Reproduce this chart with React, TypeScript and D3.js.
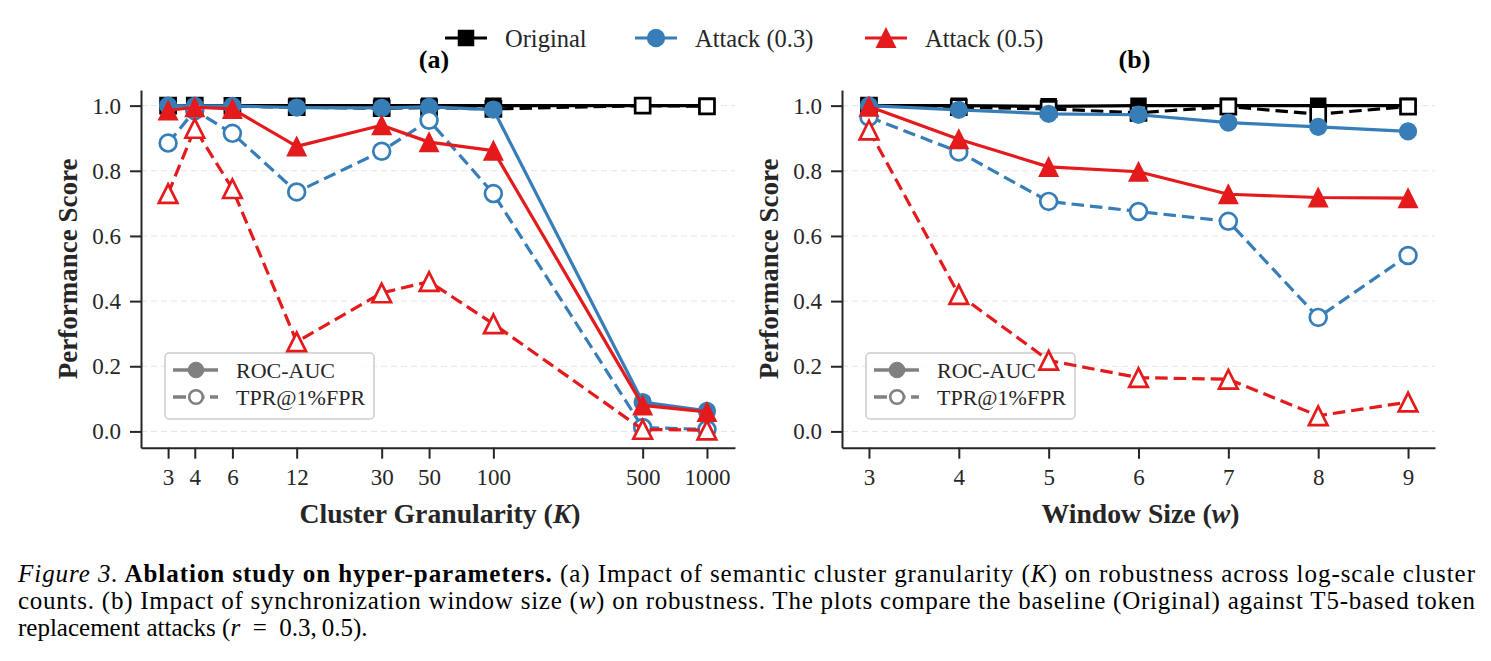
import { useEffect, useRef } from 'react';
import * as d3 from 'd3';

// ---- data ----
const kValues = [3, 4, 6, 12, 30, 50, 100, 500, 1000];
const wValues = [3, 4, 5, 6, 7, 8, 9];

const kOriginalRoc = [1.0, 1.0, 1.0, 1.0, 1.0, 1.0, 1.0, 1.0, 1.0];
const kOriginalTpr = [1.0, 1.0, 0.999, 0.995, 0.992, 0.994, 0.99, 1.0, 0.998];
const kAttack03Roc = [1.0, 0.999, 0.999, 0.994, 0.993, 0.996, 0.988, 0.09, 0.063];
const kAttack03Tpr = [0.885, 0.985, 0.915, 0.735, 0.86, 0.955, 0.73, 0.012, 0.006];
const kAttack05Roc = [0.985, 0.995, 0.99, 0.875, 0.94, 0.888, 0.862, 0.08, 0.06];
const kAttack05Tpr = [0.73, 0.93, 0.745, 0.275, 0.425, 0.46, 0.33, 0.006, 0.004];

const wOriginalRoc = [1.0, 1.0, 0.998, 1.0, 1.0, 1.0, 1.0];
const wOriginalTpr = [1.0, 0.995, 0.99, 0.978, 0.997, 0.974, 0.997];
const wAttack03Roc = [1.0, 0.987, 0.975, 0.972, 0.948, 0.935, 0.921];
const wAttack03Tpr = [0.965, 0.858, 0.706, 0.675, 0.645, 0.35, 0.54];
const wAttack05Roc = [0.997, 0.897, 0.812, 0.797, 0.728, 0.718, 0.716];
const wAttack05Tpr = [0.925, 0.42, 0.218, 0.165, 0.16, 0.048, 0.09];

const methods = ['Original', 'Attack (0.3)', 'Attack (0.5)'];
const methodColors = ['#000000', '#377eb8', '#e41a1c'];
const methodShapes = ['square', 'circle', 'triangle'];
const metricLabels = ['ROC-AUC', 'TPR@1%FPR'];
const yTicks = [0, 0.2, 0.4, 0.6, 0.8, 1.0];

const FONT = '"Liberation Serif", "Times New Roman", Times, serif';
const INK = '#262626';

type Shape = 'square' | 'circle' | 'triangle';

function markerPath(shape: Shape) {
  if (shape === 'square') return d3.symbol(d3.symbolSquare, 15 * 15)();
  if (shape === 'circle') return d3.symbol(d3.symbolCircle, Math.PI * 8.4 * 8.4)();
  const s = 9.3;
  return `M0,${-s}L${-s},${s}L${s},${s}Z`;
}

function addMarker(
  g: d3.Selection<SVGGElement, unknown, null, undefined>,
  shape: Shape,
  cx: number,
  cy: number,
  color: string,
  filled: boolean,
) {
  g.append('path')
    .attr('d', markerPath(shape))
    .attr('transform', `translate(${cx},${cy})`)
    .attr('fill', filled ? color : '#ffffff')
    .attr('stroke', color)
    .attr('stroke-width', filled ? 1.5 : 2.7)
    .attr('stroke-linejoin', 'miter');
}

export default function App() {
  const svgRef = useRef<SVGSVGElement>(null);

  useEffect(() => {
    const svg = d3.select(svgRef.current);
    if (!svg.node()) return;
    svg.selectAll('*').remove();

    const yTop = 90;
    const yBot = 447.7;
    const y = d3.scaleLinear().domain([-0.05, 1.048]).range([yBot, yTop]);

    const panels = [
      {
        title: '(a)',
        xs: kValues,
        x: d3.scaleLog().domain([2.24, 1353]).range([141, 735]),
        series: [
          [kOriginalRoc, kOriginalTpr],
          [kAttack03Roc, kAttack03Tpr],
          [kAttack05Roc, kAttack05Tpr],
        ],
        xlabel: 'Cluster Granularity (',
        xvar: 'K',
      },
      {
        title: '(b)',
        xs: wValues,
        x: d3.scaleLinear().domain([2.7, 9.3]).range([842, 1435]),
        series: [
          [wOriginalRoc, wOriginalTpr],
          [wAttack03Roc, wAttack03Tpr],
          [wAttack05Roc, wAttack05Tpr],
        ],
        xlabel: 'Window Size (',
        xvar: 'w',
      },
    ];

    panels.forEach((p) => {
      const [x0, x1] = p.x.range();
      const g = svg.append('g');

      // grid
      g.append('g')
        .selectAll('line')
        .data(yTicks)
        .join('line')
        .attr('x1', x0)
        .attr('x2', x1)
        .attr('y1', (d) => y(d))
        .attr('y2', (d) => y(d))
        .attr('stroke', '#e4e4e4')
        .attr('stroke-width', 1)
        .attr('stroke-dasharray', '6 4');

      // inner metric legend (kept under the lines, as in the original)
      const lx = x0 + 24;
      const ly = 353;
      const lg = g.append('g');
      lg.append('rect')
        .attr('x', lx)
        .attr('y', ly)
        .attr('width', 209)
        .attr('height', 66)
        .attr('rx', 4)
        .attr('fill', 'rgba(255,255,255,0.8)')
        .attr('stroke', '#cccccc')
        .attr('stroke-width', 1.5);
      metricLabels.forEach((label, i) => {
        const cy = ly + 17 + i * 27;
        lg.append('line')
          .attr('x1', lx + 8)
          .attr('x2', lx + 53)
          .attr('y1', cy)
          .attr('y2', cy)
          .attr('stroke', '#808080')
          .attr('stroke-width', 3.5)
          .attr('stroke-dasharray', i === 1 ? '13 5.5' : null);
        lg.append('circle')
          .attr('cx', lx + 31)
          .attr('cy', cy)
          .attr('r', i === 0 ? 7.8 : 6.8)
          .attr('fill', i === 0 ? '#808080' : '#ffffff')
          .attr('stroke', '#808080')
          .attr('stroke-width', i === 0 ? 1 : 2.6);
        lg.append('text')
          .attr('x', lx + 71)
          .attr('y', cy + 8)
          .attr('font-family', FONT)
          .attr('font-size', 22)
          .attr('fill', INK)
          .text(label);
      });

      // axes
      const yAxis = g
        .append('g')
        .attr('transform', `translate(${x0},0)`)
        .call(
          d3
            .axisLeft(y)
            .tickValues(yTicks)
            .tickFormat(d3.format('.1f'))
            .tickSize(11)
            .tickSizeOuter(0)
            .tickPadding(9),
        );
      const xAxis = g
        .append('g')
        .attr('transform', `translate(0,${yBot})`)
        .call(
          d3
            .axisBottom(p.x as d3.ScaleContinuousNumeric<number, number>)
            .tickValues(p.xs)
            .tickFormat((v) => `${v}`)
            .tickSize(11)
            .tickSizeOuter(0)
            .tickPadding(10),
        );
      [yAxis, xAxis].forEach((ax) => {
        ax.select('.domain').attr('stroke', INK).attr('stroke-width', 2);
        ax.selectAll('.tick line').attr('stroke', INK).attr('stroke-width', 2);
        ax.selectAll('.tick text')
          .attr('fill', INK)
          .attr('font-family', FONT)
          .attr('font-size', 23);
      });

      // series: for each method ROC (solid, filled) then TPR (dashed, hollow)
      p.series.forEach((pair, mi) => {
        const color = methodColors[mi];
        const shape = methodShapes[mi] as Shape;
        pair.forEach((vals, si) => {
          const pts = p.xs.map((xv, i) => [xv, vals[i]] as [number, number]);
          const line = d3
            .line<[number, number]>()
            .x((d) => p.x(d[0]))
            .y((d) => y(d[1]));
          g.append('path')
            .attr('d', line(pts))
            .attr('fill', 'none')
            .attr('stroke', color)
            .attr('stroke-width', 3.2)
            .attr('stroke-linejoin', 'round')
            .attr('stroke-dasharray', si === 1 ? '12.5 6' : null);
          const mg = g.append('g');
          pts.forEach((d) => addMarker(mg, shape, p.x(d[0]), y(d[1]), color, si === 0));
        });
      });

      // panel title
      g.append('text')
        .attr('x', (x0 + x1) / 2 - 4)
        .attr('y', 68)
        .attr('text-anchor', 'middle')
        .attr('font-family', FONT)
        .attr('font-weight', 'bold')
        .attr('font-size', 26)
        .attr('fill', '#000')
        .text(p.title);

      // y label
      g.append('text')
        .attr('transform', `translate(${x0 - 64},${(yTop + yBot) / 2}) rotate(-90)`)
        .attr('text-anchor', 'middle')
        .attr('font-family', FONT)
        .attr('font-weight', 'bold')
        .attr('font-size', 27)
        .attr('fill', INK)
        .text('Performance Score');

      // x label
      const xl = g
        .append('text')
        .attr('x', (x0 + x1) / 2 + 2)
        .attr('y', 523)
        .attr('text-anchor', 'middle')
        .attr('font-family', FONT)
        .attr('font-weight', 'bold')
        .attr('font-size', 27.7)
        .attr('fill', INK);
      xl.append('tspan').text(p.xlabel);
      xl.append('tspan').attr('font-style', 'italic').text(p.xvar);
      xl.append('tspan').text(')');
    });

    // top legend
    const legendX = [466, 656, 886];
    const top = svg.append('g');
    methods.forEach((m, i) => {
      const cx = legendX[i];
      const cy = 38;
      top.append('line')
        .attr('x1', cx - 21)
        .attr('x2', cx + 21)
        .attr('y1', cy)
        .attr('y2', cy)
        .attr('stroke', methodColors[i])
        .attr('stroke-width', 3.2);
      addMarker(top, methodShapes[i] as Shape, cx, cy, methodColors[i], true);
      top.append('text')
        .attr('x', cx + 39)
        .attr('y', cy + 8.5)
        .attr('font-family', FONT)
        .attr('font-size', 24.5)
        .attr('fill', INK)
        .text(m);
    });

    // caption (first two lines are justified in the source)
    const cap = svg.append('g').attr('font-family', FONT).attr('font-size', 25).attr('fill', '#000');
    const l1 = cap
      .append('text')
      .attr('x', 18)
      .attr('y', 581.5)
      .attr('textLength', 1457)
      .attr('lengthAdjust', 'spacing');
    l1.append('tspan').attr('font-style', 'italic').text('Figure 3.');
    l1.append('tspan').attr('font-weight', 'bold').text(' Ablation study on hyper-parameters.');
    l1.append('tspan').text(' (a) Impact of semantic cluster granularity (');
    l1.append('tspan').attr('font-style', 'italic').text('K');
    l1.append('tspan').text(') on robustness across log-scale cluster');

    const l2 = cap
      .append('text')
      .attr('x', 18)
      .attr('y', 608.5)
      .attr('textLength', 1457)
      .attr('lengthAdjust', 'spacing');
    l2.append('tspan').text('counts. (b) Impact of synchronization window size (');
    l2.append('tspan').attr('font-style', 'italic').text('w');
    l2.append('tspan').text(
      ') on robustness. The plots compare the baseline (Original) against T5-based token',
    );

    const l3 = cap.append('text').attr('x', 18).attr('y', 635.5);
    l3.append('tspan').text('replacement attacks (');
    l3.append('tspan').attr('font-style', 'italic').text('r');
    l3.append('tspan').text('\u2002=\u20020.3,\u20090.5).');
  }, []);

  return (
    <svg
      ref={svgRef}
      width={1491}
      height={661}
      style={{ position: 'absolute', left: 0, top: 0, background: '#ffffff', display: 'block' }}
      role="img"
      aria-label="Ablation study on hyper-parameters"
    />
  );
}
